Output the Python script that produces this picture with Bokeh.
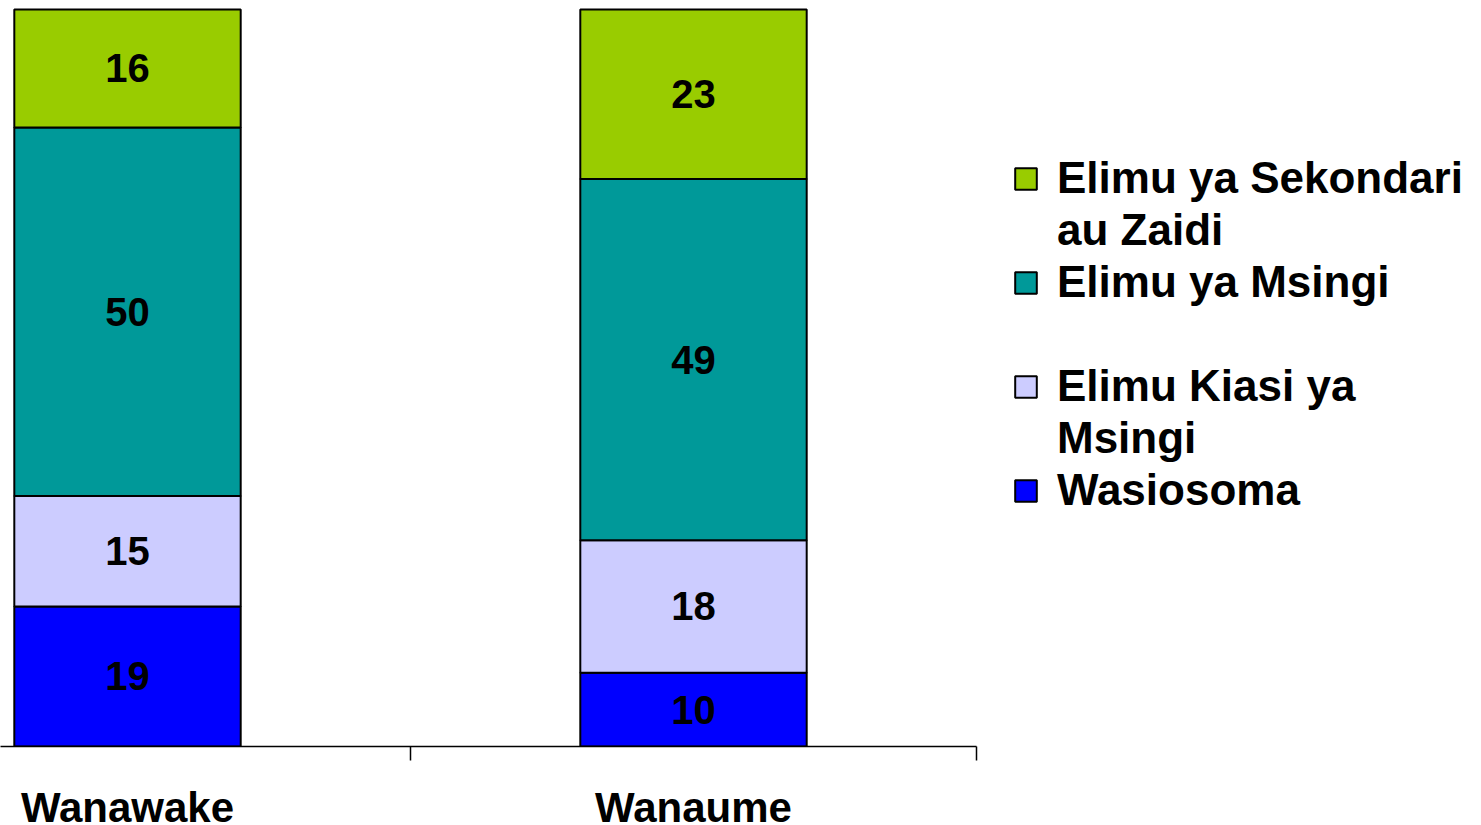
from bokeh.plotting import figure
from bokeh.models import Range1d, FixedTicker, Legend, LegendItem, ColumnDataSource
from bokeh.core.properties import value
from bokeh.embed import file_html
from bokeh.resources import INLINE

# ---- data ----
groups = ["Wanawake", "Wanaume"]
series = ["Wasiosoma", "Elimu Kiasi ya Msingi", "Elimu ya Msingi", "Elimu ya Sekondari au Zaidi"]
wasiosoma = [19, 10]
kiasi_msingi = [15, 18]
msingi = [50, 49]
sekondari = [16, 23]
# legend lines (top to bottom); index of series shown with a swatch, None for continuation lines
legend_lines = ["Elimu ya Sekondari", "au Zaidi", "Elimu ya Msingi", " ", "Elimu Kiasi ya", "Msingi", "Wasiosoma"]
legend_series = [3, None, 2, None, 1, None, 0]
colors = ["#0000FF", "#CCCCFF", "#009999", "#99CC00"]

FONT = "Liberation Sans"
xpos = [0.5 + i for i in range(len(groups))]

src = ColumnDataSource(dict(
    x=xpos, s0=wasiosoma, s1=kiasi_msingi, s2=msingi, s3=sekondari,
))

X0 = 0.27562
p = figure(width=1475, frame_width=1475, frame_height=746,
           x_range=Range1d(X0, X0 + 1475 / 566), y_range=Range1d(0, 101.221),
           output_backend="svg", toolbar_location=None,
           min_border_left=0, min_border_right=0, min_border_top=0, min_border_bottom=0)

rs = p.vbar_stack(["s0", "s1", "s2", "s3"], x="x", width=0.4, source=src,
                  color=colors, line_color="black", line_width=2)

# data labels
lx, ly, lt = [], [], []
for i, x in enumerate(xpos):
    base = 0
    for vals in (wasiosoma, kiasi_msingi, msingi, sekondari):
        v = vals[i]
        lx.append(x)
        ly.append(base + v / 2)
        lt.append(str(v))
        base += v
p.text(x=lx, y=ly, text=lt, text_align="center", text_baseline="middle",
       text_font=value(FONT), text_font_style="bold", text_font_size="40px",
       text_color="black")

# axes
p.yaxis.visible = False
p.xgrid.visible = False
p.ygrid.visible = False
p.outline_line_color = None

ax = p.xaxis[0]
ax.ticker = FixedTicker(ticks=xpos, minor_ticks=[1.0, 2.0])
ax.major_label_overrides = {xpos[i]: g for i, g in enumerate(groups)}
ax.bounds = (X0, 2.0)
ax.axis_line_color = "black"
ax.axis_line_width = 1.5
ax.major_tick_out = 0
ax.major_tick_in = 0
ax.minor_tick_out = 14
ax.minor_tick_in = 0
ax.minor_tick_line_color = "black"
ax.minor_tick_line_width = 1.5
ax.major_label_standoff = 23
ax.major_label_text_font = FONT
ax.major_label_text_font_style = "bold"
ax.major_label_text_font_size = "42px"
ax.major_label_text_color = "black"

# legend
items = []
for lab, si in zip(legend_lines, legend_series):
    items.append(LegendItem(label=lab, renderers=[rs[si]] if si is not None else []))
legend = Legend(items=items, location=(1012, 230),
                label_text_font=FONT, label_text_font_style="bold",
                label_text_font_size="44px", label_text_line_height=1.0,
                label_text_color="black", label_height=52,
                glyph_width=27, glyph_height=27, label_standoff=18,
                spacing=0, padding=0, margin=0,
                border_line_color=None, background_fill_alpha=0)
p.add_layout(legend)

open("out.html", "w").write(file_html(p, INLINE))
